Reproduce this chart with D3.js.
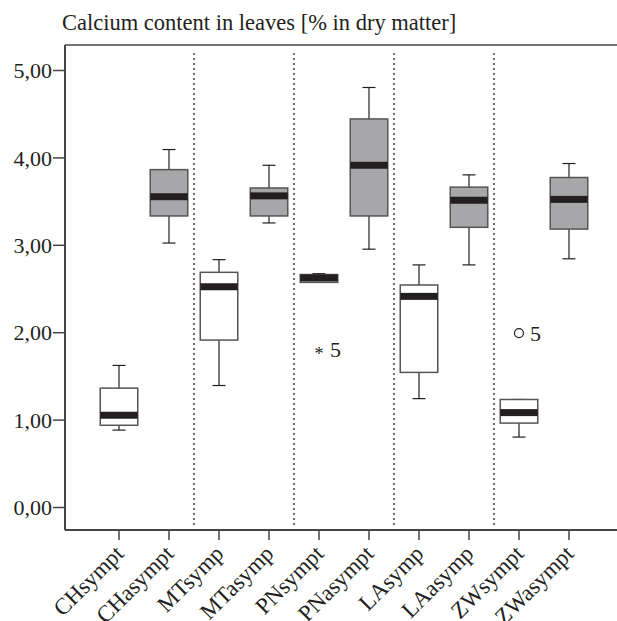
<!DOCTYPE html>
<html>
<head>
<meta charset="utf-8">
<script src="https://cdn.jsdelivr.net/npm/d3@7"></script>
<style>
  body { margin: 0; background: #fff; }
</style>
</head>
<body>
<div id="chart"></div>
<script>
// categorias del eje x
let categories = ['CHsympt', 'CHasympt', 'MTsymp', 'MTasymp', 'PNsympt',
    'PNasympt', 'LAsymp', 'LAasymp', 'ZWsympt', 'ZWasympt'];
// estadisticos: bigote inferior, Q1, mediana, Q3, bigote superior
let lowWhisker = [0.88, 3.02, 1.39, 3.25, 2.57, 2.95, 1.24, 2.77, 0.80, 2.84];
let q1Values = [0.935, 3.33, 1.91, 3.33, 2.57, 3.33, 1.54, 3.20, 0.96, 3.18];
let medians = [1.05, 3.55, 2.52, 3.56, 2.62, 3.91, 2.41, 3.51, 1.08, 3.52];
let q3Values = [1.36, 3.86, 2.685, 3.65, 2.66, 4.44, 2.54, 3.66, 1.23, 3.77];
let highWhisker = [1.62, 4.09, 2.83, 3.91, 2.67, 4.80, 2.77, 3.80, 1.23, 3.93];
// valores atipicos
let outliers = [
    { cat: 'PNsympt', value: 1.80, label: '5', type: 'extreme' },
    { cat: 'ZWsympt', value: 1.99, label: '5', type: 'outlier' }
];
let yTicks = [0, 1, 2, 3, 4, 5];
let title = 'Calcium content in leaves [% in dry matter]';

let width = 617;
let height = 621;
let frame = { left: 65, top: 45, bottom: 530, right: 620 };
let font = '"Liberation Serif", "DejaVu Serif", serif';
let ink = '#231f20';

let svg = d3.select('#chart').append('svg')
    .attr('width', width)
    .attr('height', height);

let y = d3.scaleLinear()
    .domain([0, 5])
    .range([507, 70]);

let x = d3.scaleBand()
    .domain(categories)
    .range([94, 594])
    .paddingInner(0.25)
    .paddingOuter(0.125);

let boxes = categories.map((c, i) => ({
    cat: c,
    lo: lowWhisker[i], q1: q1Values[i], med: medians[i], q3: q3Values[i], hi: highWhisker[i],
    fill: c.indexOf('asymp') >= 0 ? '#a7a7aa' : '#ffffff'
}));

// titulo
svg.append('text')
    .attr('x', 62)
    .attr('y', 30)
    .style('font-family', font)
    .style('font-size', '22.5px')
    .style('fill', ink)
    .text(title);

// marco: linea superior
svg.append('line')
    .attr('x1', frame.left).attr('x2', frame.right)
    .attr('y1', frame.top).attr('y2', frame.top)
    .attr('stroke', '#444').attr('stroke-width', 1.5);

// eje y
let yAxis = svg.append('g')
    .attr('transform', 'translate(' + frame.left + ',0)')
    .call(d3.axisLeft(y).tickValues(yTicks).tickSize(12).tickPadding(1)
        .tickFormat(d => d3.format('.2f')(d).replace('.', ',')));
yAxis.select('.domain').remove();
yAxis.selectAll('.tick line').attr('stroke', '#444').attr('stroke-width', 1.5);
yAxis.selectAll('.tick text')
    .style('font-family', font)
    .style('font-size', '22px')
    .style('fill', ink)
    .attr('dy', '0.35em');

svg.append('line')
    .attr('x1', frame.left).attr('x2', frame.left)
    .attr('y1', frame.top).attr('y2', frame.bottom)
    .attr('stroke', '#444').attr('stroke-width', 2);

// eje x
let xAxis = svg.append('g')
    .attr('transform', 'translate(0,' + frame.bottom + ')')
    .call(d3.axisBottom(x).tickSize(10));
xAxis.select('.domain').remove();
xAxis.selectAll('.tick line').attr('stroke', '#444').attr('stroke-width', 1.5);
xAxis.selectAll('.tick text')
    .style('font-family', font)
    .style('font-size', '23px')
    .style('fill', ink)
    .attr('x', 0)
    .attr('y', 0)
    .attr('dy', 0)
    .attr('text-anchor', 'end')
    .attr('transform', 'translate(6,25) rotate(-45)');

svg.append('line')
    .attr('x1', frame.left).attr('x2', frame.right)
    .attr('y1', frame.bottom).attr('y2', frame.bottom)
    .attr('stroke', '#444').attr('stroke-width', 2);

// separadores punteados entre grupos
let dividers = [2, 4, 6, 8].map(i =>
    (x(categories[i - 1]) + x(categories[i]) + x.bandwidth()) / 2);
svg.selectAll('.divider')
    .data(dividers)
    .join('line')
    .attr('class', 'divider')
    .attr('x1', d => d).attr('x2', d => d)
    .attr('y1', 53).attr('y2', 527)
    .attr('stroke', '#222')
    .attr('stroke-width', 1.3)
    .attr('stroke-dasharray', '2,3');

// cajas
let box = svg.selectAll('.box')
    .data(boxes)
    .join('g')
    .attr('class', 'box')
    .attr('transform', d => 'translate(' + (x(d.cat) + x.bandwidth() / 2) + ',0)');

let bw = x.bandwidth();
let cap = 13;

box.append('line')
    .attr('x1', 0).attr('x2', 0)
    .attr('y1', d => y(d.hi)).attr('y2', d => y(d.q3))
    .attr('stroke', ink).attr('stroke-width', 1.2);
box.append('line')
    .attr('x1', 0).attr('x2', 0)
    .attr('y1', d => y(d.q1)).attr('y2', d => y(d.lo))
    .attr('stroke', ink).attr('stroke-width', 1.2);
box.append('line')
    .attr('x1', -cap / 2).attr('x2', cap / 2)
    .attr('y1', d => y(d.hi)).attr('y2', d => y(d.hi))
    .attr('stroke', ink).attr('stroke-width', 1.2);
box.append('line')
    .attr('x1', -cap / 2).attr('x2', cap / 2)
    .attr('y1', d => y(d.lo)).attr('y2', d => y(d.lo))
    .attr('stroke', ink).attr('stroke-width', 1.2);

box.append('rect')
    .attr('x', -bw / 2)
    .attr('width', bw)
    .attr('y', d => y(d.q3))
    .attr('height', d => Math.max(1, y(d.q1) - y(d.q3)))
    .attr('fill', d => d.fill)
    .attr('stroke', '#555')
    .attr('stroke-width', 1.5);

box.append('rect')
    .attr('x', -bw / 2)
    .attr('width', bw)
    .attr('y', d => y(d.med) - 3.5)
    .attr('height', 7)
    .attr('fill', ink);

// atipicos
let out = svg.selectAll('.outlier')
    .data(outliers)
    .join('g')
    .attr('class', 'outlier')
    .attr('transform', d => 'translate(' + (x(d.cat) + bw / 2) + ',' + y(d.value) + ')');

out.filter(d => d.type === 'outlier')
    .append('circle')
    .attr('r', 4.5)
    .attr('fill', 'none')
    .attr('stroke', ink)
    .attr('stroke-width', 1.2);

out.filter(d => d.type === 'extreme')
    .append('text')
    .attr('text-anchor', 'middle')
    .attr('dy', '0.6em')
    .style('font-family', font)
    .style('font-size', '18px')
    .style('fill', ink)
    .text('*');

out.append('text')
    .attr('x', 11)
    .attr('dy', '0.35em')
    .style('font-family', font)
    .style('font-size', '22px')
    .style('fill', ink)
    .text(d => d.label);
</script>
</body>
</html>
